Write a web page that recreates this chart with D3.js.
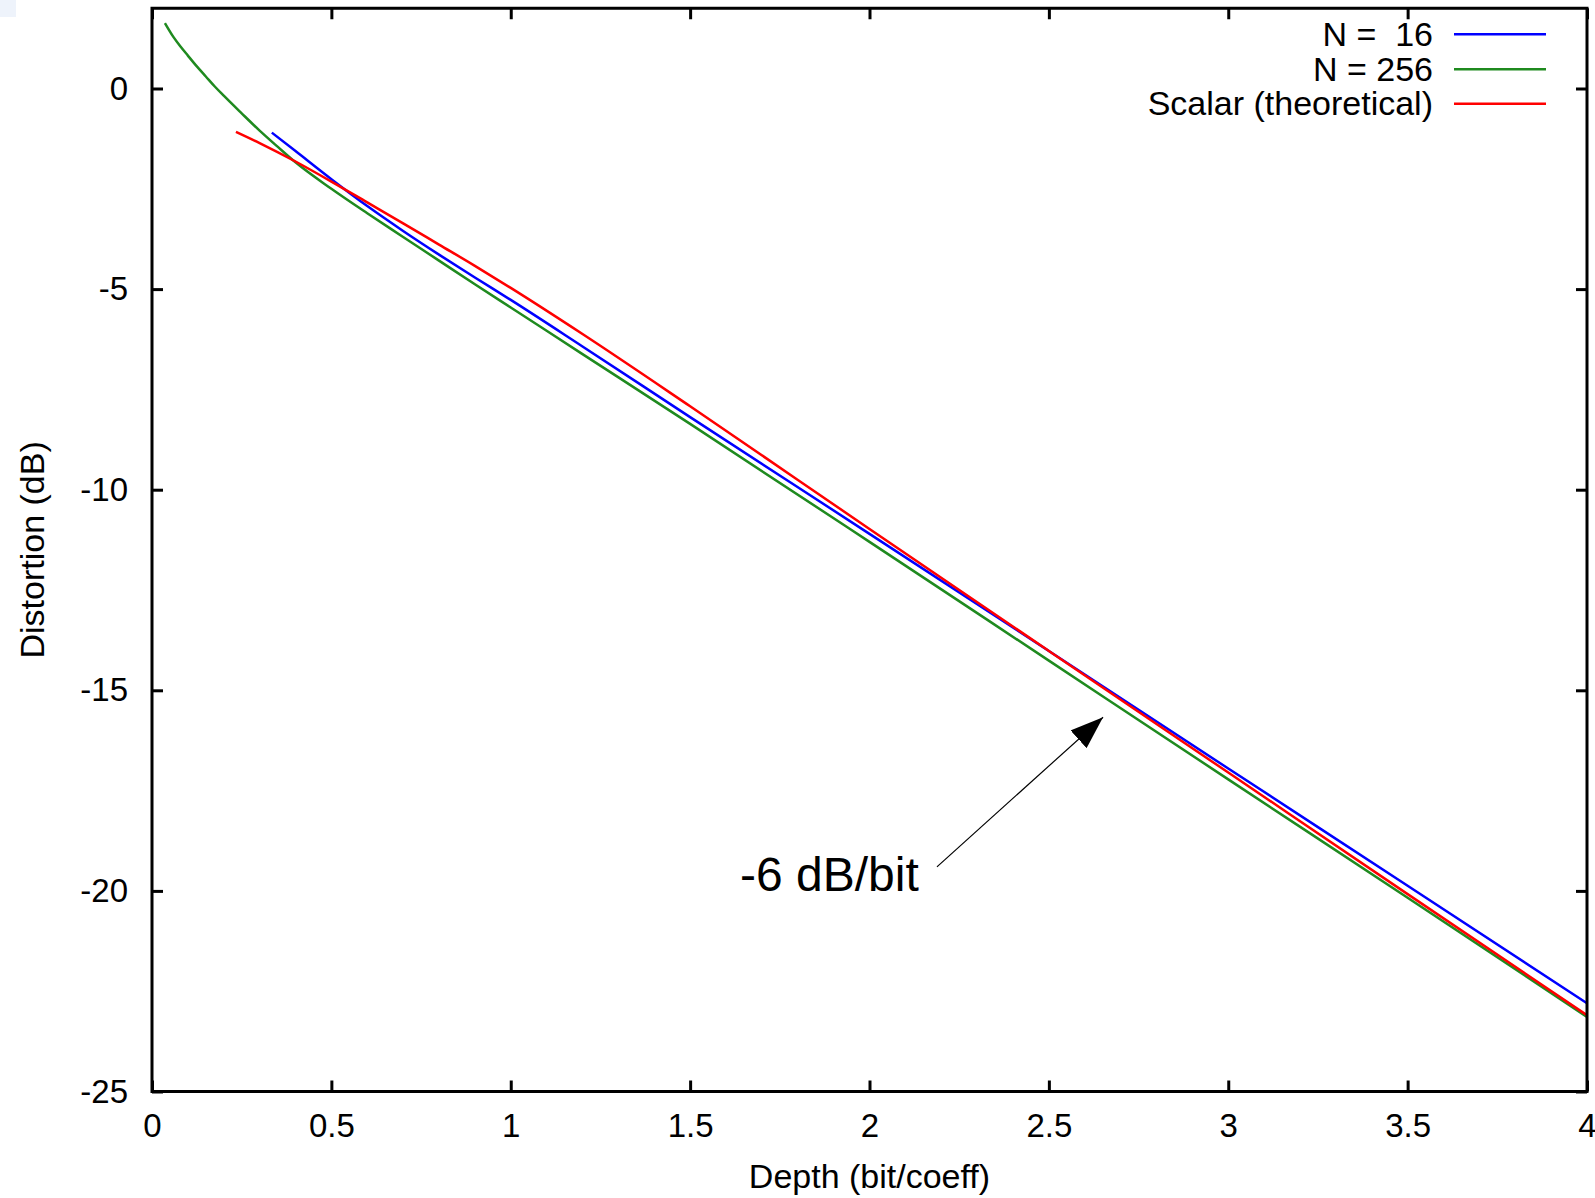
<!DOCTYPE html>
<html>
<head>
<meta charset="utf-8">
<script src="https://cdn.jsdelivr.net/npm/d3@7"></script>
<style>
  html, body { margin: 0; padding: 0; background: #fff; }
  svg { display: block; }
  text { font-family: "Liberation Sans", Arial, sans-serif; fill: #000; }
</style>
</head>
<body>
<svg id="chart" width="1595" height="1198"></svg>
<script>
// ---- Data ----
const xTicks = [0, 0.5, 1, 1.5, 2, 2.5, 3, 3.5, 4];
const yTicks = [-25, -20, -15, -10, -5, 0];
const xTickLabels = ["0", "0.5", "1", "1.5", "2", "2.5", "3", "3.5", "4"];
const yTickLabels = ["-25", "-20", "-15", "-10", "-5", "0"];

const seriesNames = ["N =  16", "N = 256", "Scalar (theoretical)"];

const n16Depth = [0.334, 0.4, 0.5, 0.6, 0.7, 0.8, 0.9, 1.0, 1.2, 1.5, 2.0, 2.5, 3.0, 3.5, 4.0];
const n16Dist  = [-1.10, -1.56, -2.26, -2.93, -3.55, -4.14, -4.71, -5.27, -6.43, -8.19, -11.10, -14.02, -16.95, -19.87, -22.80];

const n256Depth = [0.036, 0.06, 0.08, 0.1, 0.125, 0.15, 0.175, 0.2, 0.25, 0.3, 0.35, 0.4, 0.5, 0.6, 0.7, 0.8, 0.9, 1.0, 1.2, 1.5, 2.0, 2.5, 3.0, 3.5, 4.0];
const n256Dist  = [1.63, 1.28, 1.04, 0.82, 0.55, 0.30, 0.05, -0.18, -0.62, -1.05, -1.45, -1.84, -2.50, -3.11, -3.70, -4.29, -4.88, -5.46, -6.62, -8.36, -11.30, -14.26, -17.22, -20.17, -23.14];

const scalarDepth = [0.234, 0.3, 0.4, 0.5, 0.6, 0.7, 0.8, 0.9, 1.0, 1.2, 1.5, 2.0, 2.5, 3.0, 3.5, 4.0];
const scalarDist  = [-1.08, -1.36, -1.82, -2.32, -2.84, -3.36, -3.89, -4.42, -4.97, -6.12, -7.92, -10.98, -14.02, -17.05, -20.08, -23.10];

const seriesColors = ["#0000ff", "#1f8a1f", "#ff0000"];

const annotationText = "-6 dB/bit";
const annotationPos = [1.639, -20.0];
const arrowFrom = [2.188, -19.40];
const arrowTo = [2.651, -15.67];

// ---- Layout ----
const svg = d3.select("#chart");
const plotLeft = 152, plotRight = 1587, plotBottom = 1091.5;
const x = d3.scaleLinear().domain([0, 4]).range([plotLeft, plotRight]);
const y = d3.scaleLinear().domain([-25, 2]).range([plotBottom, plotBottom - 27 * 40.12]);
const plotTop = y(2);
const FS = 33, FS_TITLE = 34;

// faint artifact top-left
svg.append("rect").attr("x", 0).attr("y", 0).attr("width", 16).attr("height", 17).attr("fill", "#eef3fb");

// ---- Curves ----
const series = [
  { name: seriesNames[0], xs: n16Depth, ys: n16Dist, color: seriesColors[0] },
  { name: seriesNames[1], xs: n256Depth, ys: n256Dist, color: seriesColors[1] },
  { name: seriesNames[2], xs: scalarDepth, ys: scalarDist, color: seriesColors[2] }
];
const line = d3.line().x(d => x(d[0])).y(d => y(d[1])).curve(d3.curveMonotoneX);
series.forEach(s => {
  svg.append("path")
    .datum(s.xs.map((v, i) => [v, s.ys[i]]))
    .attr("d", line)
    .attr("fill", "none")
    .attr("stroke", s.color)
    .attr("stroke-width", 2.5);
});

// ---- Axes (ticks inward on all sides) ----
const TL = 11;
const gx = svg.append("g").attr("transform", `translate(0,${plotBottom})`)
  .call(d3.axisBottom(x).tickValues(xTicks).tickFormat((d, i) => xTickLabels[i]).tickSize(-TL).tickPadding(22.5));
const gxt = svg.append("g").attr("transform", `translate(0,${plotTop})`)
  .call(d3.axisTop(x).tickValues(xTicks).tickFormat("").tickSize(-TL));
const gy = svg.append("g").attr("transform", `translate(${plotLeft},0)`)
  .call(d3.axisLeft(y).tickValues(yTicks).tickFormat((d, i) => yTickLabels[i]).tickSize(-TL).tickPadding(24));
const gyr = svg.append("g").attr("transform", `translate(${plotRight},0)`)
  .call(d3.axisRight(y).tickValues(yTicks).tickFormat("").tickSize(-TL));
[gx, gxt, gy, gyr].forEach(g => {
  g.select(".domain").remove();
  g.selectAll(".tick line").attr("stroke", "#000").attr("stroke-width", 3);
  g.selectAll(".tick text").style("font-size", FS + "px").style("font-family", "'Liberation Sans', Arial, sans-serif").attr("fill", "#000");
});

// border
svg.append("rect")
  .attr("x", plotLeft).attr("y", plotTop)
  .attr("width", plotRight - plotLeft).attr("height", plotBottom - plotTop)
  .attr("fill", "none").attr("stroke", "#000").attr("stroke-width", 3);

// ---- Axis titles ----
svg.append("text")
  .attr("x", (plotLeft + plotRight) / 2).attr("y", 1188)
  .attr("text-anchor", "middle")
  .style("font-size", FS_TITLE + "px")
  .text("Depth (bit/coeff)");
svg.append("text")
  .attr("transform", `translate(44,${(plotTop + plotBottom) / 2}) rotate(-90)`)
  .attr("text-anchor", "middle")
  .style("font-size", FS_TITLE + "px")
  .text("Distortion (dB)");

// ---- Legend ----
const legTextX = 1433, legLineX1 = 1454, legLineX2 = 1546;
const legRowY = [34.3, 69.3, 103.8];
series.forEach((s, i) => {
  svg.append("text")
    .attr("x", legTextX).attr("y", legRowY[i] + 11.5)
    .attr("text-anchor", "end")
    .attr("xml:space", "preserve")
    .style("white-space", "pre")
    .style("font-size", FS_TITLE + "px")
    .text(s.name);
  svg.append("line")
    .attr("x1", legLineX1).attr("x2", legLineX2)
    .attr("y1", legRowY[i]).attr("y2", legRowY[i])
    .attr("stroke", s.color).attr("stroke-width", 2.5);
});

// ---- Annotation ----
svg.append("text")
  .attr("x", x(annotationPos[0])).attr("y", y(annotationPos[1]))
  .style("font-size", "48px")
  .text(annotationText);

const defs = svg.append("defs");
defs.append("marker")
  .attr("id", "arrowhead")
  .attr("viewBox", "0 0 33 24")
  .attr("refX", 33).attr("refY", 12)
  .attr("markerWidth", 33).attr("markerHeight", 24)
  .attr("markerUnits", "userSpaceOnUse")
  .attr("orient", "auto")
  .append("path").attr("d", "M0,0 L33,12 L0,24 Z").attr("fill", "#000");
svg.append("line")
  .attr("x1", x(arrowFrom[0])).attr("y1", y(arrowFrom[1]))
  .attr("x2", x(arrowTo[0])).attr("y2", y(arrowTo[1]))
  .attr("stroke", "#000").attr("stroke-width", 1.2)
  .attr("marker-end", "url(#arrowhead)");
</script>
</body>
</html>
